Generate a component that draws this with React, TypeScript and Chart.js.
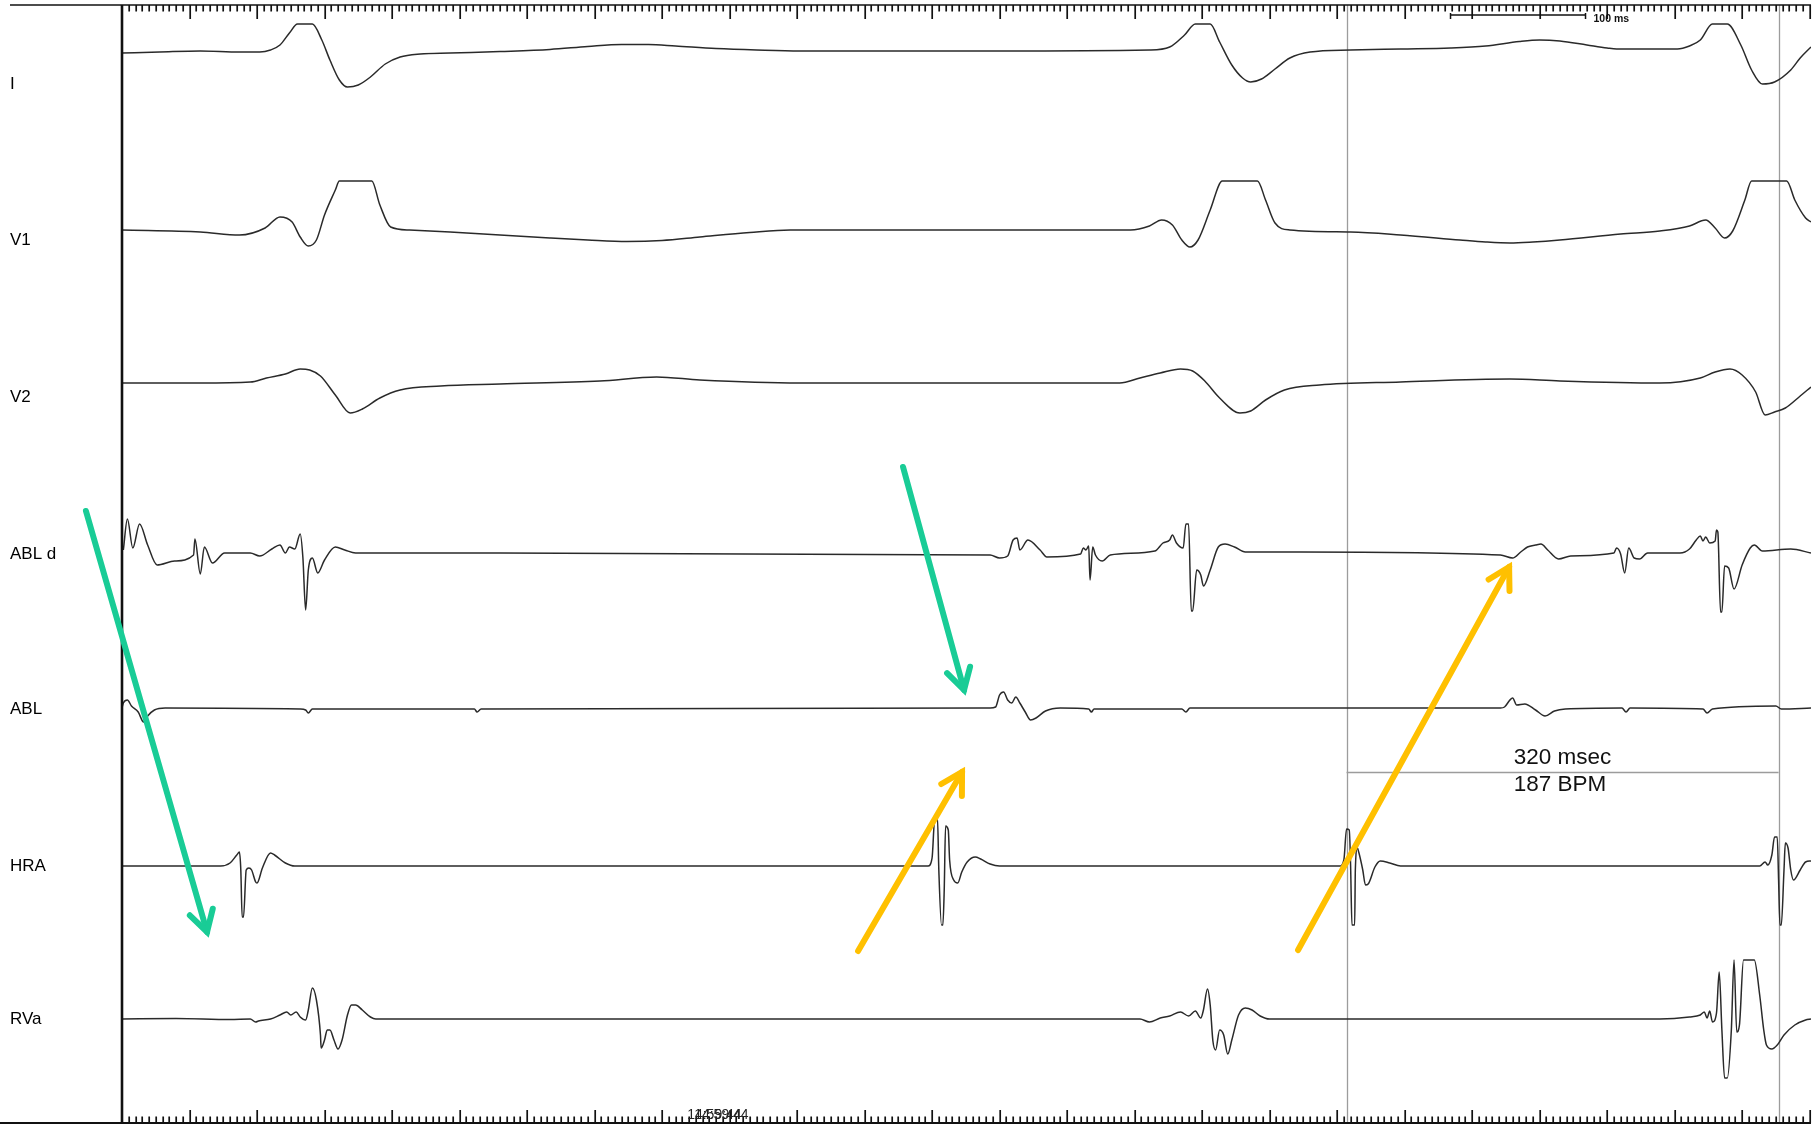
import { useEffect, useRef } from "react";
import { Chart, registerables } from "chart.js";

Chart.register(...registerables);

// Recording window (ms) and vertical display range (display units, 0 = top)
const WINDOW_MS = 1251;
const Y_MIN = -111.8;

const CHANNELS = ["I", "V1", "V2", "ABL d", "ABL", "HRA", "RVa"];
// Centre of each channel lane on the vertical scale
const LANE_CENTERS = [-7.9, -23.5, -39.2, -54.9, -70.4, -86.1, -101.4];

type P = [number, number]; // [time ms, deflection]

const LEAD_I: P[] = [
  [0, 3.1], [28, 3.2], [58, 3.3], [87, 3.2], [102, 3.2], [110, 3.4], [117, 3.9], [124, 5.1],
  [130, 6.0], [141, 6.0], [148, 4.4], [154, 2.4], [161, 0.4], [167, -0.3], [175, -0.1],
  [184, 0.7], [195, 2.0], [206, 2.7], [221, 3.0], [243, 3.1], [280, 3.25], [317, 3.45],
  [345, 3.75], [370, 3.95], [390, 3.95], [410, 3.8], [440, 3.55], [470, 3.4], [502, 3.3],
  [650, 3.3], [761, 3.4], [776, 3.7], [787, 4.9], [795, 6.0], [806, 6.0], [813, 4.2],
  [822, 1.9], [830, 0.6], [836, 0.2], [844, 0.5], [854, 1.5], [865, 2.6], [880, 3.2],
  [910, 3.4], [947, 3.5], [984, 3.6], [1010, 3.8], [1035, 4.25], [1050, 4.4], [1065, 4.3],
  [1085, 3.9], [1100, 3.6], [1107, 3.5], [1152, 3.5], [1161, 3.8], [1169, 4.4], [1178, 6.0],
  [1189, 6.0], [1199, 3.9], [1207, 1.4], [1215, 0.0], [1224, 0.2], [1236, 1.4], [1243, 2.6],
  [1251, 3.7],
];

const LEAD_V1: P[] = [
  [0, 1.0], [58, 0.8], [87, 0.5], [106, 1.2], [117, 2.3], [126, 1.8], [132, 0.3], [138, -0.6],
  [144, 0.0], [150, 2.5], [158, 5.0], [161, 5.9], [185, 5.9], [191, 3.5], [199, 1.3],
  [213, 1.0], [243, 0.8], [280, 0.5], [317, 0.2], [345, 0.0], [374, -0.15], [400, -0.05],
  [428, 0.3], [465, 0.75], [495, 1.0], [747, 1.0], [761, 1.4], [770, 2.0], [778, 1.5],
  [785, 0.0], [791, -0.7], [797, 0.0], [806, 3.0], [815, 5.9], [841, 5.9], [847, 4.0],
  [854, 1.7], [865, 1.0], [910, 0.8], [947, 0.5], [991, 0.0], [1010, -0.2], [1028, -0.3],
  [1045, -0.2], [1065, 0.0], [1110, 0.6], [1139, 0.9], [1161, 1.4], [1173, 2.0], [1180, 1.2],
  [1187, 0.2], [1193, 0.9], [1202, 4.0], [1207, 5.9], [1233, 5.9], [1239, 4.0], [1247, 2.2],
  [1251, 1.8],
];

const LEAD_V2: P[] = [
  [0, 1.4], [58, 1.4], [95, 1.5], [107, 1.9], [121, 2.3], [132, 2.8], [139, 2.7], [147, 2.1],
  [158, 0.2], [169, -1.6], [178, -1.2], [191, -0.1], [206, 0.7], [236, 1.1], [280, 1.3],
  [354, 1.6], [396, 2.0], [428, 1.7], [502, 1.4], [739, 1.4], [754, 1.9], [769, 2.4],
  [784, 2.8], [793, 2.6], [802, 1.6], [813, -0.1], [828, -1.6], [836, -1.4], [847, -0.3],
  [861, 0.7], [887, 1.2], [947, 1.5], [1028, 1.8], [1065, 1.6], [1139, 1.4], [1169, 1.9],
  [1180, 2.5], [1191, 2.8], [1200, 2.2], [1210, 0.5], [1217, -1.8], [1224, -1.5],
  [1232, -1.1], [1243, 0.1], [1251, 1.0],
];

const ABL_D: P[] = [
  [1, 0.4], [4, 3.5], [8, 0.6], [13, 3.0], [19, 0.9], [26, -1.1], [39, -0.7], [53, -0.1],
  [54, 1.5], [58, -2.0], [61, 0.7], [67, -0.9], [76, 0.1], [95, 0.1], [102, -0.2],
  [111, 0.5], [117, 0.9], [121, 0.1], [124, 0.7], [128, 0.5], [132, 2.0], [134, -0.4],
  [136, -5.6], [138, -1.6], [141, -0.4], [145, -1.9], [150, -0.6], [158, 0.7], [165, 0.4],
  [173, 0.1], [280, 0.1], [643, -0.1], [650, -0.4], [656, -0.2], [660, 1.4], [663, 1.6],
  [665, 0.4], [671, 1.4], [680, 0.4], [685, -0.3], [710, 0.0], [712, 0.6], [714, 0.4],
  [716, 0.8], [717, -2.6], [719, 0.7], [721, -0.1], [726, -0.7], [732, -0.1], [765, 0.3],
  [771, 1.1], [776, 1.4], [778, 1.9], [781, 1.1], [786, 0.6], [788, 3.0], [790, 3.0],
  [792, -5.7], [793, -5.7], [796, -1.6], [799, -2.1], [801, -3.2], [806, -1.6], [812, 0.7],
  [817, 1.0], [824, 0.7], [832, 0.2], [873, 0.2], [1021, -0.1], [1030, -0.4], [1036, 0.2],
  [1041, 0.7], [1047, 0.9], [1051, 1.0], [1056, 0.4], [1064, -0.5], [1073, -0.2],
  [1105, 0.1], [1107, 0.6], [1110, 0.0], [1113, -1.9], [1116, 0.6], [1120, -0.4],
  [1124, -0.5], [1130, 0.1], [1154, 0.1], [1161, 0.5], [1166, 1.4], [1169, 1.8],
  [1171, 1.3], [1173, 1.7], [1176, 1.1], [1180, 1.3], [1181, 2.4], [1182, 2.2],
  [1184, -5.8], [1185, -5.8], [1187, -1.2], [1190, -1.4], [1194, -3.5], [1200, -1.1],
  [1206, 0.6], [1209, 0.9], [1215, 0.3], [1236, 0.5], [1251, 0.1],
];

const ABL: P[] = [
  [0, 0.1], [1, 0.6], [4, 0.9], [7, 0.3], [12, -0.3], [16, -1.3], [19, -0.7], [24, -0.1],
  [32, 0.1], [132, 0.0], [136, -0.1], [138, -0.4], [141, 0.0], [261, 0.0], [263, -0.3],
  [266, 0.0], [643, 0.1], [647, 0.2], [650, 1.4], [653, 1.7], [656, 0.9], [659, 0.6],
  [662, 1.2], [665, 0.6], [669, -0.3], [673, -1.1], [677, -0.9], [684, -0.2], [695, 0.1],
  [716, 0.0], [718, -0.3], [720, 0.0], [785, 0.0], [788, -0.3], [791, 0.1], [1021, 0.1],
  [1024, 0.2], [1028, 0.9], [1030, 1.1], [1033, 0.4], [1039, 0.5], [1047, -0.1],
  [1054, -0.7], [1061, -0.2], [1069, 0.0], [1111, 0.1], [1114, -0.3], [1117, 0.1],
  [1171, 0.0], [1174, -0.4], [1178, 0.0], [1225, 0.3], [1229, 0.0], [1251, 0.1],
];

const HRA: P[] = [
  [0, 0.0], [73, 0.0], [80, 0.3], [85, 1.1], [87, 1.4], [88, -0.4], [89, -5.1], [90, -5.1],
  [92, -0.4], [94, -0.2], [96, -0.4], [99, -1.6], [100, -1.7], [104, -0.2], [110, 1.3],
  [113, 1.1], [121, 0.3], [128, 0.0], [597, 0.0], [600, 0.8], [602, 4.8], [604, 4.8],
  [605, -0.4], [607, -5.9], [608, -5.9], [609, -2.4], [610, 4.0], [612, 3.6], [613, 0.6],
  [616, -1.4], [619, -1.7], [622, -0.6], [626, 0.4], [632, 0.9], [636, 0.7], [643, 0.2],
  [650, 0.0], [902, 0.0], [905, 0.6], [907, 3.7], [909, 3.6], [910, 0.0], [911, -5.9],
  [913, -5.9], [913.5, -0.4], [915, 1.8], [916, 1.4], [919, -0.4], [921, -1.9], [923, -1.8],
  [928, -0.1], [932, 0.5], [939, 0.3], [947, 0.0], [1213, 0.0], [1217, 0.4], [1219, 0.1],
  [1222, 1.1], [1224, 2.9], [1226, 2.9], [1227, -1.4], [1228, -5.9], [1229, -5.9],
  [1231, -0.4], [1232, 2.3], [1234, 1.8], [1236, -0.4], [1238, -1.4], [1243, -0.4],
  [1247, 0.4], [1251, 0.5],
];

const RVA: P[] = [
  [0, 0.0], [40, 0.05], [80, -0.05], [95, 0.0], [99, -0.3], [101, -0.2], [110, 0.0], [117, 0.4],
  [122, 0.7], [125, 0.4], [129, 0.7], [132, 0.2], [136, -0.1], [138, 0.9], [141, 3.1],
  [144, 1.9], [147, -1.6], [147.5, -2.9], [150, -2.1], [152, -1.1], [154, -1.1], [157, -2.1],
  [160, -3.0], [163, -2.1], [167, 0.4], [170, 1.4], [173, 1.4], [178, 0.9], [184, 0.2],
  [188, 0.0], [754, 0.0], [761, -0.3], [769, 0.1], [776, 0.3], [784, 0.7], [790, 0.3],
  [795, 0.8], [799, 0.1], [801, 0.9], [804, 3.0], [806, 1.4], [808, -2.2], [810, -3.1],
  [813, -1.1], [816, -1.6], [819, -3.5], [822, -2.1], [827, 0.4], [832, 1.1], [837, 0.9],
  [843, 0.3], [850, 0.0], [1139, 0.0], [1161, 0.2], [1169, 0.4], [1172, 0.7], [1174, 0.1],
  [1176, 0.8], [1178, -0.3], [1181, 0.6], [1183, 4.7], [1185, -1.1], [1187, -5.9],
  [1189, -5.9], [1192, -1.1], [1194, 5.9], [1196, -1.3], [1198, -0.6], [1201, 5.9],
  [1209, 5.9], [1213, 2.4], [1216, -1.1], [1218, -2.6], [1222, -3.0], [1226, -2.6],
  [1231, -1.6], [1239, -0.6], [1247, -0.1], [1251, 0.0],
];

const TRACES: P[][] = [LEAD_I, LEAD_V1, LEAD_V2, ABL_D, ABL, HRA, RVA];

// Interval calipers (ms) and the level of their connecting bar
const CALIPERS: [number, number] = [907, 1227];
const CALIPER_LEVEL = -76.7;

// 100 ms calibration bar
const SCALE_BAR: [number, number] = [984, 1084];
const SCALE_LABEL = "100 ms";

const TIMESTAMP = "14:59:44";
const TIMESTAMP_AT = 441;

const GREEN = "#19cc96";
const YELLOW = "#ffc000";
type Arrow = { from: P; to: P; color: string };
const ARROWS: Arrow[] = [
  { from: [-26.7, -50.6], to: [63, -92.7], color: GREEN },
  { from: [578.5, -46.2], to: [623.7, -68.5], color: GREEN },
  { from: [545.2, -94.6], to: [622.2, -76.7], color: YELLOW },
  { from: [871.1, -94.5], to: [1027.4, -56.2], color: YELLOW },
];

const FONT = "Arial, 'Liberation Sans', sans-serif";

function drawArrow(ctx: CanvasRenderingContext2D, x1: number, y1: number, x2: number, y2: number, color: string) {
  ctx.save();
  ctx.strokeStyle = color;
  ctx.lineWidth = 6;
  ctx.lineCap = "round";
  ctx.beginPath();
  ctx.moveTo(x1, y1);
  ctx.lineTo(x2, y2);
  ctx.stroke();
  const back = Math.atan2(y1 - y2, x1 - x2);
  const len = 24;
  const spread = 0.52;
  ctx.lineJoin = "miter";
  ctx.beginPath();
  ctx.moveTo(x2 + len * Math.cos(back + spread), y2 + len * Math.sin(back + spread));
  ctx.lineTo(x2, y2);
  ctx.lineTo(x2 + len * Math.cos(back - spread), y2 + len * Math.sin(back - spread));
  ctx.stroke();
  ctx.restore();
}

const recordingPlugin = {
  id: "recording",
  beforeDatasetsDraw(chart: any) {
    const { ctx, chartArea, scales } = chart;
    const x = scales.x;
    const y = scales.y;
    ctx.save();
    ctx.strokeStyle = "#9c9c9c";
    ctx.lineWidth = 1.3;
    for (const t of CALIPERS) {
      const px = Math.round(x.getPixelForValue(t)) + 0.5;
      ctx.beginPath();
      ctx.moveTo(px, chartArea.top);
      ctx.lineTo(px, chartArea.bottom);
      ctx.stroke();
    }
    const ly = Math.round(y.getPixelForValue(CALIPER_LEVEL)) + 0.5;
    ctx.beginPath();
    ctx.moveTo(x.getPixelForValue(CALIPERS[0]), ly);
    ctx.lineTo(x.getPixelForValue(CALIPERS[1]), ly);
    ctx.stroke();
    ctx.restore();
  },
  afterDatasetsDraw(chart: any) {
    const { ctx, chartArea, scales } = chart;
    const x = scales.x;
    const y = scales.y;
    const { left, right, top, bottom } = chartArea;
    ctx.save();

    // frame
    ctx.strokeStyle = "#111";
    ctx.lineWidth = 1.6;
    ctx.beginPath();
    ctx.moveTo(10, top);
    ctx.lineTo(right, top);
    ctx.stroke();
    ctx.lineWidth = 2;
    ctx.beginPath();
    ctx.moveTo(0, bottom);
    ctx.lineTo(right, bottom);
    ctx.stroke();
    ctx.lineWidth = 2.6;
    ctx.beginPath();
    ctx.moveTo(left, top);
    ctx.lineTo(left, bottom);
    ctx.stroke();

    // time rulers: 5 ms minor, 50 ms major
    ctx.lineWidth = 1.7;
    ctx.strokeStyle = "#111";
    for (let t = 5; t <= WINDOW_MS; t += 5) {
      const px = Math.round(x.getPixelForValue(t)) + 0.2;
      const major = t % 50 === 0;
      ctx.beginPath();
      ctx.moveTo(px, top);
      ctx.lineTo(px, top + (major ? 14 : 6.5));
      ctx.moveTo(px, bottom);
      ctx.lineTo(px, bottom - (major ? 13 : 6.5));
      ctx.stroke();
    }

    // calibration bar
    const b0 = x.getPixelForValue(SCALE_BAR[0]);
    const b1 = x.getPixelForValue(SCALE_BAR[1]);
    ctx.lineWidth = 1.5;
    ctx.beginPath();
    ctx.moveTo(b0, top + 10);
    ctx.lineTo(b1, top + 10);
    ctx.moveTo(b0, top + 8);
    ctx.lineTo(b0, top + 14);
    ctx.moveTo(b1, top + 8);
    ctx.lineTo(b1, top + 14);
    ctx.stroke();
    ctx.fillStyle = "#111";
    ctx.font = `bold 10.5px ${FONT}`;
    ctx.textAlign = "left";
    ctx.textBaseline = "middle";
    ctx.fillText(SCALE_LABEL, b1 + 8, top + 14);

    // channel names
    ctx.fillStyle = "#000";
    ctx.font = `17px ${FONT}`;
    ctx.textAlign = "left";
    ctx.textBaseline = "middle";
    CHANNELS.forEach((name, i) => {
      ctx.fillText(name, 10, y.getPixelForValue(LANE_CENTERS[i]));
    });

    // caliper readout
    const interval = CALIPERS[1] - CALIPERS[0];
    const bpm = Math.floor(60000 / interval);
    const line1 = `${interval} msec`;
    const line2 = `${bpm} BPM`;
    ctx.font = `22.5px ${FONT}`;
    const mid = (x.getPixelForValue(CALIPERS[0]) + x.getPixelForValue(CALIPERS[1])) / 2;
    const tx = mid - ctx.measureText(line1).width / 2;
    const ly = y.getPixelForValue(CALIPER_LEVEL);
    ctx.fillStyle = "#111";
    ctx.fillText(line1, tx, ly - 14);
    ctx.fillText(line2, tx, ly + 13);

    // timestamp (two overlapping stamps, as printed by the recorder)
    ctx.font = `14px ${FONT}`;
    ctx.textAlign = "center";
    const tsx = x.getPixelForValue(TIMESTAMP_AT);
    ctx.fillStyle = "#222";
    ctx.fillText(TIMESTAMP, tsx - 3, bottom - 8);
    ctx.fillText(TIMESTAMP, tsx + 4, bottom - 8);

    ctx.restore();

    // annotation arrows
    for (const a of ARROWS) {
      drawArrow(
        ctx,
        x.getPixelForValue(a.from[0]), y.getPixelForValue(a.from[1]),
        x.getPixelForValue(a.to[0]), y.getPixelForValue(a.to[1]),
        a.color,
      );
    }
  },
};

export default function App() {
  const canvasRef = useRef<HTMLCanvasElement | null>(null);

  useEffect(() => {
    document.body.style.margin = "0";
    const canvas = canvasRef.current;
    if (!canvas) return;
    const chart = new Chart(canvas, {
      type: "line",
      data: {
        datasets: TRACES.map((pts, i) => ({
          label: CHANNELS[i],
          data: pts.map(([t, v]) => ({ x: t, y: LANE_CENTERS[i] + v })),
          borderColor: "#2a2a2a",
          borderWidth: 1.5,
          pointRadius: 0,
          fill: false,
          cubicInterpolationMode: "monotone" as const,
        })),
      },
      options: {
        animation: false,
        responsive: false,
        devicePixelRatio: 1,
        parsing: false,
        layout: { padding: { left: 122, right: 9, top: 5, bottom: 2 } },
        plugins: { legend: { display: false }, tooltip: { enabled: false } },
        events: [],
        scales: {
          x: { type: "linear", min: 0, max: WINDOW_MS, display: false },
          y: { type: "linear", min: Y_MIN, max: 0, display: false },
        },
      },
      plugins: [recordingPlugin],
    });
    return () => chart.destroy();
  }, []);

  return (
    <div style={{ position: "absolute", left: 0, top: 0, width: 1820, height: 1125, background: "#fff" }}>
      <canvas ref={canvasRef} width={1820} height={1125} style={{ display: "block" }} />
    </div>
  );
}
